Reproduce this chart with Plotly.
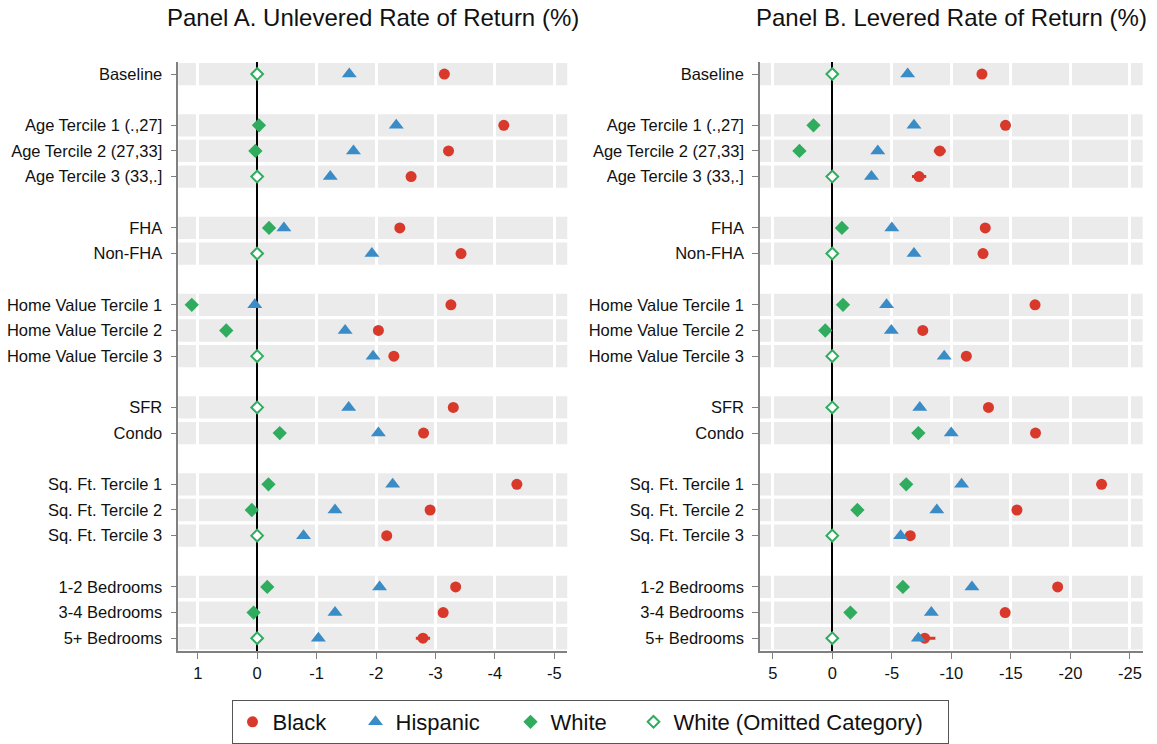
import plotly.graph_objects as go

# ---------------- data ----------------
groups = [
    ["Baseline"],
    ["Age Tercile 1 (.,27]", "Age Tercile 2 (27,33]", "Age Tercile 3 (33,.]"],
    ["FHA", "Non-FHA"],
    ["Home Value Tercile 1", "Home Value Tercile 2", "Home Value Tercile 3"],
    ["SFR", "Condo"],
    ["Sq. Ft. Tercile 1", "Sq. Ft. Tercile 2", "Sq. Ft. Tercile 3"],
    ["1-2 Bedrooms", "3-4 Bedrooms", "5+ Bedrooms"],
]

# Panel A: unlevered rate of return (%)
black_a = [-3.15, -4.15, -3.22, -2.59, -2.40, -3.43, -3.26, -2.04, -2.30,
           -3.30, -2.80, -4.37, -2.91, -2.18, -3.34, -3.13, -2.79]
black_a_err = [0, 0, 0, 0, 0, 0, 0, 0, 0, 0, 0, 0, 0, 0, 0, 0, 0.12]
hisp_a = [-1.55, -2.34, -1.62, -1.23, -0.45, -1.93, 0.04, -1.48, -1.95,
          -1.54, -2.04, -2.28, -1.31, -0.78, -2.06, -1.31, -1.03]
white_a = [None, -0.03, 0.03, None, -0.20, None, 1.10, 0.52, None,
           None, -0.38, -0.19, 0.09, None, -0.17, 0.06, None]

# Panel B: levered rate of return (%)
black_b = [-12.57, -14.55, -9.03, -7.29, -12.85, -12.66, -17.03, -7.60, -11.26,
           -13.12, -17.07, -22.62, -15.51, -6.55, -18.93, -14.52, -7.76]
black_b_err = [0, 0.35, 0.5, 0.6, 0, 0, 0, 0, 0, 0, 0, 0, 0, 0, 0, 0, 0.9]
hisp_b = [-6.33, -6.86, -3.82, -3.29, -5.00, -6.86, -4.56, -4.96, -9.40,
          -7.35, -9.99, -10.86, -8.78, -5.74, -11.73, -8.32, -7.23]
white_b = [None, 1.58, 2.76, None, -0.81, None, -0.90, 0.59, None,
           None, -7.23, -6.21, -2.11, None, -5.93, -1.52, None]

ticks_a = [1, 0, -1, -2, -3, -4, -5]
ticklabels_a = ["1", "0", "-1", "-2", "-3", "-4", "-5"]
ticks_b = [5, 0, -5, -10, -15, -20, -25]
ticklabels_b = ["5", "0", "-5", "-10", "-15", "-20", "-25"]

titles = ["Panel A. Unlevered Rate of Return (%)", "Panel B. Levered Rate of Return (%)"]
series_names = ["Black", "Hispanic", "White", "White (Omitted Category)"]

# ---------------- layout helpers ----------------
labels, rows = [], []
pos = 0
for g in groups:
    for lab in g:
        labels.append(lab)
        rows.append(pos)
        pos += 1
    pos += 1

RED = "#d9392b"
BLUE = "#3a8cc6"
GREEN = "#2fac5e"
FONT = "Liberation Sans, Arial, Helvetica, sans-serif"

fig = go.Figure()

panels = [
    dict(black=black_a, err=black_a_err, hisp=hisp_a, white=white_a, xa="x", ya="y"),
    dict(black=black_b, err=black_b_err, hisp=hisp_b, white=white_b, xa="x2", ya="y2"),
]
legend_widths = [78, 110, 78, 269]

for pi, p in enumerate(panels):
    show = pi == 0
    wy = [r for r, w in zip(rows, p["white"]) if w is not None]
    wx = [w for w in p["white"] if w is not None]
    oy = [r for r, w in zip(rows, p["white"]) if w is None]
    ox = [0 for w in p["white"] if w is None]
    fig.add_trace(go.Scatter(
        x=p["black"], y=rows, mode="markers", name=series_names[0],
        marker=dict(symbol="circle", size=11, color=RED, line=dict(width=0)),
        error_x=dict(type="data", array=p["err"], color=RED, thickness=3, width=0),
        showlegend=show, legendwidth=legend_widths[0], xaxis=p["xa"], yaxis=p["ya"]))
    fig.add_trace(go.Scatter(
        x=p["hisp"], y=rows, mode="markers", name=series_names[1],
        marker=dict(symbol="triangle-up", size=13, color=BLUE, line=dict(width=0)),
        showlegend=show, legendwidth=legend_widths[1], xaxis=p["xa"], yaxis=p["ya"]))
    fig.add_trace(go.Scatter(
        x=wx, y=wy, mode="markers", name=series_names[2],
        marker=dict(symbol="diamond", size=11, color=GREEN, line=dict(width=0)),
        showlegend=show, legendwidth=legend_widths[2], xaxis=p["xa"], yaxis=p["ya"]))
    fig.add_trace(go.Scatter(
        x=ox, y=oy, mode="markers", name=series_names[3],
        marker=dict(symbol="diamond", size=9, color="white", line=dict(width=2, color=GREEN)),
        showlegend=show, legendwidth=legend_widths[3], xaxis=p["xa"], yaxis=p["ya"]))

# gray row bands
for xa, ya in [("x", "y"), ("x2", "y2")]:
    for r in rows:
        fig.add_shape(type="rect", xref=f"{xa} domain", yref=ya, x0=0, x1=1,
                      y0=r - 0.435, y1=r + 0.435, fillcolor="#ebebeb",
                      line=dict(width=0), layer="below")

TICKFONT = dict(family=FONT, size=16.5, color="#111")
common_x = dict(showgrid=True, gridcolor="white", gridwidth=3,
                zeroline=True, zerolinecolor="black", zerolinewidth=1.5,
                showline=True, linecolor="#808080", linewidth=1.5,
                ticks="outside", ticklen=6, tickcolor="#808080", tickwidth=1.2,
                tickfont=TICKFONT, automargin=False)
common_y = dict(range=[22.51, -0.47], tickvals=rows, ticktext=labels,
                showgrid=False, zeroline=False,
                showline=True, linecolor="#808080", linewidth=1.5,
                ticks="outside", ticklen=6, tickcolor="#808080", tickwidth=1.2,
                ticklabelstandoff=5,
                tickfont=TICKFONT, automargin=False)

XA = [0.1541, 0.4903]
XB = [0.6569, 0.9876]
YD = [0.1246, 0.9167]

fig.update_layout(
    width=1157, height=744, autosize=False, template="none",
    margin=dict(l=0, r=0, t=0, b=0),
    paper_bgcolor="white", plot_bgcolor="white",
    font=dict(family=FONT, color="#111"),
    xaxis=dict(domain=XA, range=[1.327, -5.218],
               tickvals=ticks_a, ticktext=ticklabels_a, anchor="y", **common_x),
    xaxis2=dict(domain=XB, range=[6.07, -26.07],
                tickvals=ticks_b, ticktext=ticklabels_b, anchor="y2", **common_x),
    yaxis=dict(domain=YD, anchor="x", **common_y),
    yaxis2=dict(domain=YD, anchor="x2", **common_y),
    legend=dict(orientation="h", x=590 / 1157, xanchor="center", y=1 - 700 / 744,
                yanchor="top",
                bordercolor="#555", borderwidth=1, bgcolor="white",
                font=dict(family=FONT, size=22, color="#111"),
                itemclick=False),
    annotations=[
        dict(text=titles[0], xref="paper", yref="paper", x=sum(XA) / 2,
             y=1 - 18 / 744, xanchor="center", yanchor="middle", showarrow=False,
             font=dict(family=FONT, size=24, color="#111")),
        dict(text=titles[1], xref="paper", yref="paper", x=sum(XB) / 2,
             y=1 - 18 / 744, xanchor="center", yanchor="middle", showarrow=False,
             font=dict(family=FONT, size=24, color="#111")),
    ],
)

fig.write_html("out.html", config={"displayModeBar": False},
               post_script="document.body.style.margin='0';document.body.style.overflow='hidden';")
